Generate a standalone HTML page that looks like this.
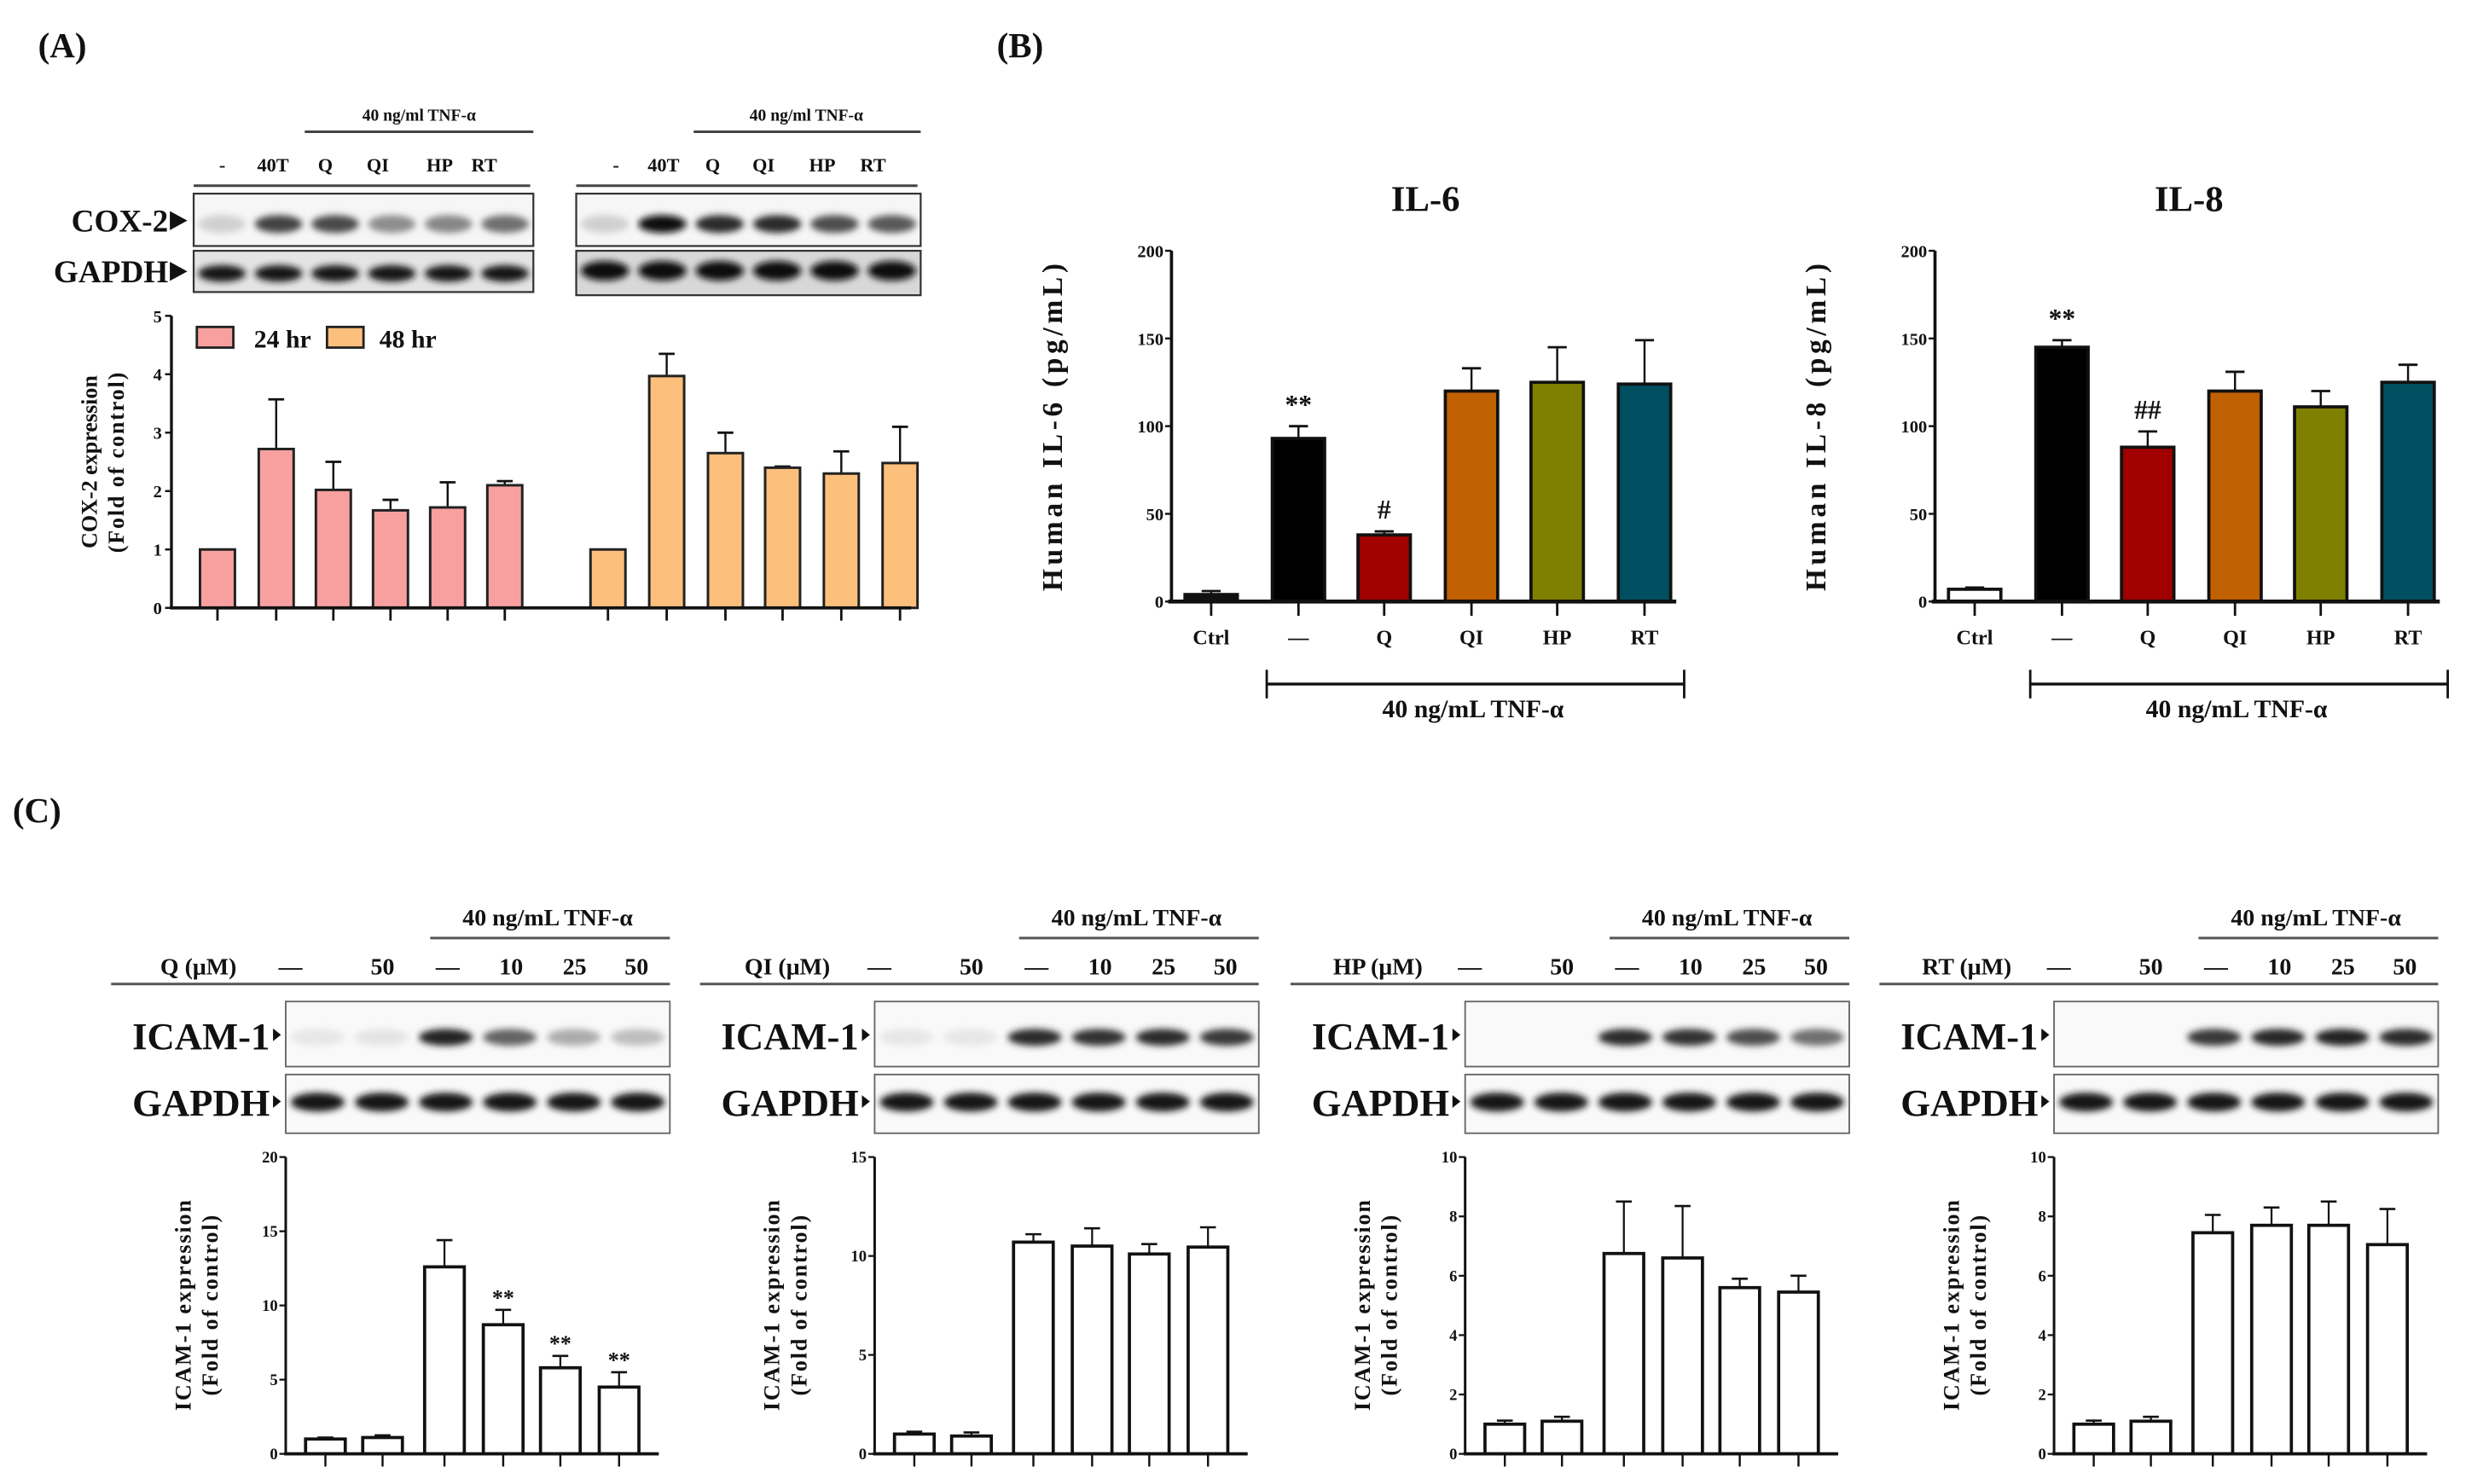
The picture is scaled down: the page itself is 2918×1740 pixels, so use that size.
<!DOCTYPE html>
<html><head><meta charset="utf-8">
<style>
html,body{margin:0;padding:0;background:#fff;}
svg{display:block;}
text{font-family:"Liberation Serif",serif;font-weight:bold;fill:#111;}
</style></head>
<body>
<svg id="fig" width="2918" height="1740" viewBox="0 0 1568 935" xmlns="http://www.w3.org/2000/svg">
<defs>
<filter id="blur" x="-20%" y="-50%" width="140%" height="200%"><feGaussianBlur stdDeviation="2.2"/></filter>
</defs>
<rect width="1568" height="935" fill="#fff"/>
<text x="24" y="36" font-size="22">(A)</text>
<text x="628" y="36" font-size="22">(B)</text>
<text x="8" y="518" font-size="22">(C)</text>
<g id="root"></g>
</svg>
<script>
// ---------- DATA ----------
const coxLanes = ["-", "40T", "Q", "QI", "HP", "RT"];
const cox24 = [1, 2.72, 2.02, 1.67, 1.72, 2.1];
const cox24Err = [1, 3.57, 2.5, 1.85, 2.15, 2.17];
const cox48 = [1, 3.97, 2.65, 2.4, 2.3, 2.48];
const cox48Err = [1, 4.35, 3.0, 2.42, 2.68, 3.1];
const coxTicks = [0, 1, 2, 3, 4, 5];
const cox24Bands = [0.12, 0.75, 0.72, 0.42, 0.45, 0.55];
const cox48Bands = [0.12, 1.0, 0.85, 0.85, 0.7, 0.65];

const ilCats = ["Ctrl", "\u2014", "Q", "QI", "HP", "RT"];
const il6 = [4, 93, 38, 120, 125, 124];
const il6Err = [6, 100, 40, 133, 145, 149];
const il8 = [7, 145, 88, 120, 111, 125];
const il8Err = [8, 149, 97, 131, 120, 135];
const ilTicks = [0, 50, 100, 150, 200];
const il6Marks = ["", "**", "#", "", "", ""];
const il8Marks = ["", "**", "##", "", "", ""];

const icamDoses = ["\u2014", "50", "\u2014", "10", "25", "50"];
const icamCompounds = ["Q", "QI", "HP", "RT"];
const icamQ = [1, 1.1, 12.6, 8.7, 5.8, 4.5];
const icamQErr = [1.1, 1.25, 14.4, 9.7, 6.6, 5.5];
const icamQI = [1, 0.9, 10.7, 10.5, 10.1, 10.45];
const icamQIErr = [1.12, 1.08, 11.1, 11.4, 10.6, 11.45];
const icamHP = [1, 1.1, 6.75, 6.6, 5.6, 5.45];
const icamHPErr = [1.12, 1.25, 8.5, 8.35, 5.9, 6.0];
const icamRT = [1, 1.1, 7.45, 7.7, 7.7, 7.05];
const icamRTErr = [1.12, 1.25, 8.05, 8.3, 8.5, 8.25];
const icamQTicks = [0, 5, 10, 15, 20];
const icamQITicks = [0, 5, 10, 15];
const icamHPTicks = [0, 2, 4, 6, 8, 10];
const icamRTTicks = [0, 2, 4, 6, 8, 10];
const icamQMarks = ["", "", "", "**", "**", "**"];
const icamQBands = [0.02, 0.03, 0.9, 0.6, 0.28, 0.2];
const icamQIBands = [0.02, 0.02, 0.85, 0.82, 0.85, 0.8];
const icamHPBands = [0.0, 0.0, 0.85, 0.82, 0.7, 0.55];
const icamRTBands = [0.0, 0.0, 0.8, 0.88, 0.9, 0.85];

// ---------- HELPERS ----------
const NS = "http://www.w3.org/2000/svg";
const root = document.getElementById("root");
function mk(tag, attrs, parent) {
  const e = document.createElementNS(NS, tag);
  for (const k in attrs) e.setAttribute(k, attrs[k]);
  (parent || root).appendChild(e);
  return e;
}
function txt(x, y, s, size, name, extra, parent) {
  const t = mk("text", Object.assign({x: x, y: y, "font-size": size}, extra || {}), parent);
  t.textContent = s;
  
  
  return t;
}
function line(x1, y1, x2, y2, w, name, color) {
  const l = mk("line", {x1: x1, y1: y1, x2: x2, y2: y2, stroke: color || "#111", "stroke-width": w});
  
  
  return l;
}
function blot(x, y, w, h, bands, name, opts) {
  const g = mk("g", {});
  
  
  mk("rect", {x: x, y: y, width: w, height: h, fill: opts.bg || "#f6f6f6"}, g);
  const lw = w / bands.length;
  const bg = mk("g", {filter: "url(#blur)"}, g);
  bands.forEach((v, i) => {
    if (v <= 0.01) return;
    const c = Math.round(235 - 225 * v);
    mk("ellipse", {cx: x + lw * (i + 0.5), cy: y + h * (opts.pos || 0.55), rx: lw * 0.42, ry: h * (opts.th || 0.14), fill: `rgb(${c},${c},${c})`}, bg);
  });
  mk("rect", {x: x, y: y, width: w, height: h, fill: "none", stroke: opts.stroke || "#333", "stroke-width": opts.sw || 1.2}, g);
}

// ---------- PANEL A ----------
(function () {
  txt(264, 76, "40 ng/ml TNF-\u03b1", 10.5, "tnf-header-24h", {"text-anchor": "middle"});
  line(192, 83, 336, 83, 1.6, "tnf-line-24h", "#444");
  txt(508, 76, "40 ng/ml TNF-\u03b1", 10.5, "tnf-header-48h", {"text-anchor": "middle"});
  line(437, 83, 580, 83, 1.6, "tnf-line-48h", "#444");
  const l24 = [140, 172, 205, 238, 277, 305], l48 = [388, 418, 449, 481, 518, 550];
  coxLanes.forEach((s, i) => {
    txt(l24[i], 108, s, 12, "lane-label-24h", {"text-anchor": "middle", "font-weight": "normal"});
    txt(l48[i], 108, s, 12, "lane-label-48h", {"text-anchor": "middle", "font-weight": "normal"});
  });
  line(122, 117, 334, 117, 1.6, "lane-line-24h", "#444");
  line(363, 117, 578, 117, 1.6, "lane-line-48h", "#444");
  blot(122, 122, 214, 33, cox24Bands, "cox2-blot-24h", {pos: 0.58, th: 0.17});
  blot(363, 122, 217, 33, cox48Bands, "cox2-blot-48h", {pos: 0.58, th: 0.17});
  blot(122, 158, 214, 26, [0.95,0.95,0.95,0.95,0.95,0.95], "gapdh-blot-24h", {pos: 0.55, th: 0.2, bg: "#e4e4e4"});
  blot(363, 158, 217, 28, [1,1,1,1,1,1], "gapdh-blot-48h", {pos: 0.45, th: 0.22, bg: "#d8d8d8"});
  txt(106, 146, "COX-2", 20, "cox2-label", {"text-anchor": "end"});
  mk("polygon", {points: "107,133 118,139 107,145", fill: "#111"});
  txt(106, 178, "GAPDH", 20, "gapdh-label-a", {"text-anchor": "end"});
  mk("polygon", {points: "107,165 118,171 107,177", fill: "#111"});

  const ax = 108, y0 = 383, yTop = 199, maxV = 5;
  const Y = v => y0 - (v / maxV) * (y0 - yTop);
  const c24 = [137, 174, 210, 246, 282, 318], c48 = [383, 420, 457, 493, 530, 567];
  const bw = 22;
  coxTicks.forEach(t => {
    line(ax - 4, Y(t), ax, Y(t), 1.3, "y-tick");
    txt(ax - 6, Y(t) + 4, String(t), 11, "y-tick-label", {"text-anchor": "end", "font-weight": "normal"});
  });
  function series(vals, errs, cs, color, nm) {
    vals.forEach((v, i) => {
      const cx = cs[i];
      if (errs[i] > v) {
        line(cx, Y(v), cx, Y(errs[i]), 1.3, nm + "-error");
        line(cx - 5, Y(errs[i]), cx + 5, Y(errs[i]), 1.5, nm + "-error-cap");
      }
      const r = mk("rect", {x: cx - bw / 2, y: Y(v), width: bw, height: y0 - Y(v), fill: color, stroke: "#222", "stroke-width": 1.6});
      
      
      line(cx, y0, cx, y0 + 8, 1.5, "x-tick");
    });
  }
  series(cox24, cox24Err, c24, "#f8a0a0", "cox2-24h");
  series(cox48, cox48Err, c48, "#fcc07c", "cox2-48h");
  line(ax, yTop, ax, y0, 1.8, "y-axis-a");
  line(ax - 1, y0, 574, y0, 2, "x-axis-a");
  mk("rect", {x: 124, y: 206, width: 23, height: 13, fill: "#f8a0a0", stroke: "#222", "stroke-width": 1.5});
  txt(160, 219, "24 hr", 16, "legend-24h", {});
  mk("rect", {x: 206, y: 206, width: 23, height: 13, fill: "#fcc07c", stroke: "#222", "stroke-width": 1.5});
  txt(239, 219, "48 hr", 16, "legend-48h", {});
  txt(0, 0, "COX-2 expression", 14, "y-axis-title-a", {transform: "translate(61,291) rotate(-90)", "text-anchor": "middle"});
  txt(0, 0, "(Fold of control)", 14, "y-axis-title-a2", {transform: "translate(78,291) rotate(-90)", "text-anchor": "middle", "letter-spacing": "1"});
})();

// ---------- PANEL B ----------
function ilChart(ax, title, vals, errs, marks, colors, ylab, name) {
  const y0 = 379, yTop = 158, maxV = 200;
  const Y = v => y0 - (v / maxV) * (y0 - yTop);
  const offs = [25, 80, 134, 189, 243, 298], bw = 33;
  txt(ax + 160, 133, title, 23, name + "-title", {"text-anchor": "middle"});
  ilTicks.forEach(t => {
    line(ax - 4, Y(t), ax, Y(t), 1.3, "y-tick");
    txt(ax - 5, Y(t) + 4, String(t), 11, "y-tick-label", {"text-anchor": "end", "font-weight": "normal"});
  });
  vals.forEach((v, i) => {
    const cx = ax + offs[i];
    line(cx, Y(v), cx, Y(errs[i]), 1.3, name + "-error");
    line(cx - 6, Y(errs[i]), cx + 6, Y(errs[i]), 1.5, name + "-error-cap");
    const r = mk("rect", {x: cx - bw / 2, y: Y(v), width: bw, height: y0 - Y(v), fill: colors[i], stroke: "#111", "stroke-width": 2});
    
    
    if (marks[i]) txt(cx, Y(errs[i]) - 8, marks[i], 17, name + "-significance", {"text-anchor": "middle", "font-weight": "normal"});
    line(cx, y0, cx, y0 + 9, 1.5, "x-tick");
    txt(cx, 406, ilCats[i], 13, name + "-x-label", {"text-anchor": "middle"});
  });
  line(ax, yTop, ax, y0, 2, name + "-y-axis");
  line(ax - 2, y0, ax + 318, y0, 2.5, name + "-x-axis");
  line(ax + 60, 431, ax + 323, 431, 1.8, name + "-bracket");
  line(ax + 60, 422, ax + 60, 440, 1.5, name + "-bracket-end");
  line(ax + 323, 422, ax + 323, 440, 1.5, name + "-bracket-end");
  txt(ax + 190, 452, "40 ng/mL TNF-\u03b1", 16, name + "-treatment-label", {"text-anchor": "middle"});
  txt(0, 0, ylab, 18, name + "-y-axis-title", {transform: `translate(${ax - 69},268) rotate(-90)`, "text-anchor": "middle", "letter-spacing": "2.5"});
}
ilChart(738, "IL-6", il6, il6Err, il6Marks, ["#111", "#000", "#a00000", "#c06000", "#808000", "#004f60"], "Human IL-6 (pg/mL)", "il6");
ilChart(1219, "IL-8", il8, il8Err, il8Marks, ["#fff", "#000", "#a00000", "#c06000", "#808000", "#004f60"], "Human IL-8 (pg/mL)", "il8");

// ---------- PANEL C ----------
function icamPanel(ax, comp, vals, errs, ticks, marks, bands, name) {
  const y0 = 916, yTop = 729, maxV = ticks[ticks.length - 1];
  const Y = v => y0 - (v / maxV) * (y0 - yTop);
  const offs = [25, 61, 100, 137, 173, 210], bw = 25;
  txt(ax + 165, 583, "40 ng/mL TNF-\u03b1", 15, name + "-tnf-header", {"text-anchor": "middle"});
  line(ax + 91, 591, ax + 242, 591, 1.6, name + "-tnf-line", "#555");
  txt(ax - 55, 614, comp + " (\u03bcM)", 15, name + "-dose-title", {"text-anchor": "middle"});
  const dx = [3, 61, 102, 142, 182, 221];
  icamDoses.forEach((s, i) => txt(ax + dx[i], 614, s, 15, name + "-dose-label", {"text-anchor": "middle"}));
  line(ax - 110, 620, ax + 242, 620, 1.6, name + "-dose-line", "#555");
  blot(ax, 631, 242, 41, bands, name + "-icam-blot", {pos: 0.55, th: 0.13, bg: "#f9f9f9", stroke: "#666", sw: 1});
  blot(ax, 677, 242, 37, [0.95, 0.95, 0.95, 0.95, 0.95, 0.95], name + "-gapdh-blot", {pos: 0.47, th: 0.16, bg: "#f9f9f9", stroke: "#666", sw: 1});
  txt(ax - 10, 661, "ICAM-1", 24, name + "-icam-label", {"text-anchor": "end"});
  mk("polygon", {points: `${ax - 8},648 ${ax - 3},652 ${ax - 8},656`, fill: "#111"});
  txt(ax - 10, 703, "GAPDH", 24, name + "-gapdh-label", {"text-anchor": "end"});
  mk("polygon", {points: `${ax - 8},690 ${ax - 3},694 ${ax - 8},698`, fill: "#111"});
  ticks.forEach(t => {
    line(ax - 4, Y(t), ax, Y(t), 1.2, "y-tick");
    txt(ax - 5, Y(t) + 3.5, String(t), 10, "y-tick-label", {"text-anchor": "end", "font-weight": "normal"});
  });
  vals.forEach((v, i) => {
    const cx = ax + offs[i];
    line(cx, Y(v), cx, Y(errs[i]), 1.2, name + "-error");
    line(cx - 5, Y(errs[i]), cx + 5, Y(errs[i]), 1.4, name + "-error-cap");
    const r = mk("rect", {x: cx - bw / 2, y: Y(v), width: bw, height: y0 - Y(v), fill: "#fff", stroke: "#111", "stroke-width": 2});
    
    
    if (marks[i]) txt(cx, Y(errs[i]) - 3, marks[i], 14, name + "-significance", {"text-anchor": "middle", "font-weight": "normal"});
    line(cx, y0, cx, y0 + 8, 1.3, "x-tick");
  });
  line(ax, yTop, ax, y0, 1.6, name + "-y-axis");
  line(ax - 1, y0, ax + 235, y0, 2, name + "-x-axis");
  txt(0, 0, "ICAM-1 expression", 14, name + "-y-axis-title", {transform: `translate(${ax - 60},822) rotate(-90)`, "text-anchor": "middle", "letter-spacing": "1"});
  txt(0, 0, "(Fold of control)", 14, name + "-y-axis-title2", {transform: `translate(${ax - 43},822) rotate(-90)`, "text-anchor": "middle", "letter-spacing": "1"});
}
icamPanel(180, icamCompounds[0], icamQ, icamQErr, icamQTicks, icamQMarks, icamQBands, "icam-q");
icamPanel(551, icamCompounds[1], icamQI, icamQIErr, icamQITicks, ["", "", "", "", "", ""], icamQIBands, "icam-qi");
icamPanel(923, icamCompounds[2], icamHP, icamHPErr, icamHPTicks, ["", "", "", "", "", ""], icamHPBands, "icam-hp");
icamPanel(1294, icamCompounds[3], icamRT, icamRTErr, icamRTTicks, ["", "", "", "", "", ""], icamRTBands, "icam-rt");
</script>
</body></html>
